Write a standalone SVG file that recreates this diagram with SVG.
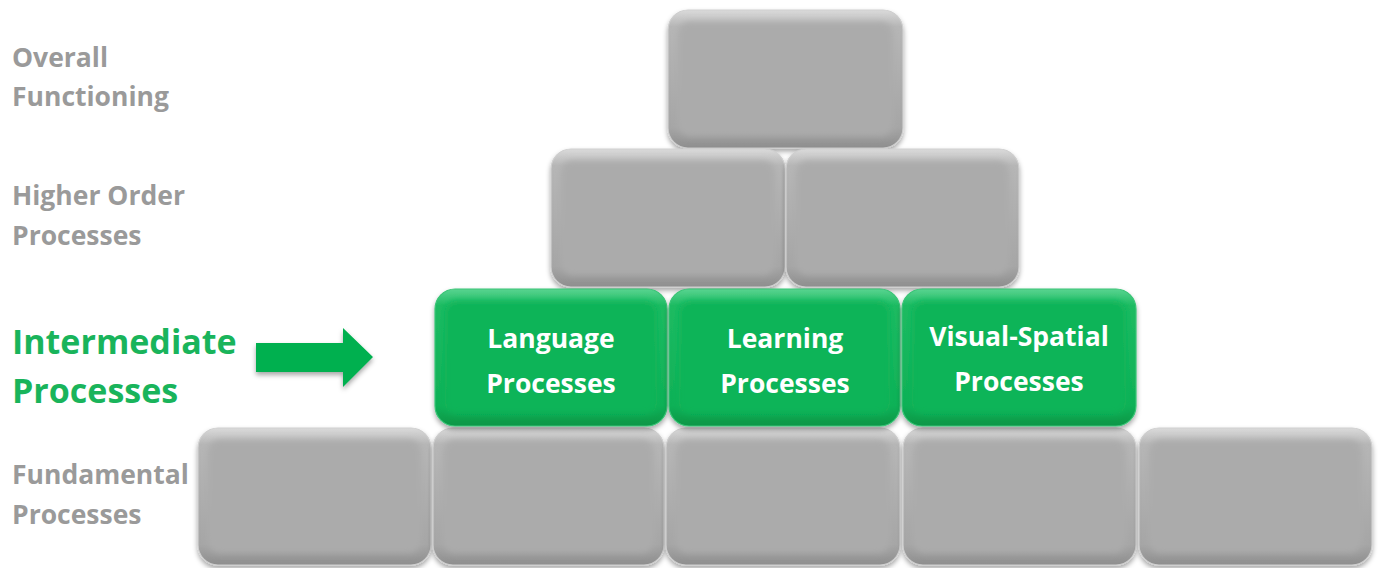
<svg xmlns="http://www.w3.org/2000/svg" width="1378" height="568" viewBox="0 0 1378 568">
<defs>
<filter id="sh" x="-10%" y="-10%" width="120%" height="125%">
<feDropShadow dx="0" dy="3" stdDeviation="2.5" flood-color="#000" flood-opacity="0.35"/>
</filter>
<filter id="soft" x="-10%" y="-10%" width="120%" height="120%">
<feGaussianBlur stdDeviation="3"/>
</filter>
<linearGradient id="gEdge" x1="0" y1="0" x2="0" y2="1">
<stop offset="0" stop-color="#dadada"/>
<stop offset="0.12" stop-color="#b6b6b6"/>
<stop offset="0.85" stop-color="#a6a6a6"/>
<stop offset="1" stop-color="#8e8e8e"/>
</linearGradient>
<linearGradient id="nEdge" x1="0" y1="0" x2="0" y2="1">
<stop offset="0" stop-color="#58d490"/>
<stop offset="0.12" stop-color="#1dbb62"/>
<stop offset="0.85" stop-color="#0fb157"/>
<stop offset="1" stop-color="#079646"/>
</linearGradient>
<style>
.gray .o{fill:url(#gEdge);stroke:#cfcfcf;stroke-width:1.2}
.gray .i{fill:#ababab}
.green .o{fill:url(#nEdge);stroke:#3ac476;stroke-width:1.2}
.green .i{fill:#11b459}
.lbl{font-family:"Open Sans","Liberation Sans",sans-serif;font-weight:bold;font-size:26.5px;fill:#9a9a9a}
.big{font-family:"Open Sans","Liberation Sans",sans-serif;font-weight:bold;font-size:34px;fill:#19b45b}
.bt{font-family:"Open Sans","Liberation Sans",sans-serif;font-weight:bold;font-size:26.5px;fill:#ffffff;text-anchor:middle}
</style>
</defs>
<rect width="1378" height="568" fill="#ffffff"/>

<g id="labels">
<text class="lbl" x="12" y="67">Overall</text>
<text class="lbl" x="12" y="106">Functioning</text>
<text class="lbl" x="12" y="205">Higher Order</text>
<text class="lbl" x="12" y="245">Processes</text>
<text class="big" x="12" y="354">Intermediate</text>
<text class="big" x="12" y="403">Processes</text>
<text class="lbl" x="12" y="484">Fundamental</text>
<text class="lbl" x="12" y="524">Processes</text>
</g>

<g id="connectors">
<polygon points="256,343 343,343 343,328 373,357 343,387 343,372 256,372" fill="#00b050" filter="url(#sh)"/>
</g>

<g id="top" class="gray" filter="url(#sh)"><rect class="o" x="668" y="10" width="235" height="138" rx="20"/><rect class="i" x="678" y="22" width="215" height="114" rx="12" filter="url(#soft)"/></g>

<g id="h1" class="gray" filter="url(#sh)"><rect class="o" x="551" y="149" width="234" height="138" rx="20"/><rect class="i" x="561" y="161" width="214" height="114" rx="12" filter="url(#soft)"/></g>
<g id="h2" class="gray" filter="url(#sh)"><rect class="o" x="786" y="149" width="233" height="138" rx="20"/><rect class="i" x="796" y="161" width="213" height="114" rx="12" filter="url(#soft)"/></g>

<g id="f1" class="gray" filter="url(#sh)"><rect class="o" x="198" y="428" width="233" height="137" rx="20"/><rect class="i" x="208" y="440" width="213" height="113" rx="12" filter="url(#soft)"/></g>
<g id="f2" class="gray" filter="url(#sh)"><rect class="o" x="433" y="428" width="231" height="137" rx="20"/><rect class="i" x="443" y="440" width="211" height="113" rx="12" filter="url(#soft)"/></g>
<g id="f3" class="gray" filter="url(#sh)"><rect class="o" x="666" y="428" width="234" height="137" rx="20"/><rect class="i" x="676" y="440" width="214" height="113" rx="12" filter="url(#soft)"/></g>
<g id="f4" class="gray" filter="url(#sh)"><rect class="o" x="903" y="428" width="233" height="137" rx="20"/><rect class="i" x="913" y="440" width="213" height="113" rx="12" filter="url(#soft)"/></g>
<g id="f5" class="gray" filter="url(#sh)"><rect class="o" x="1139" y="428" width="233" height="137" rx="20"/><rect class="i" x="1149" y="440" width="213" height="113" rx="12" filter="url(#soft)"/></g>

<g id="language" class="green">
<g filter="url(#sh)"><rect class="o" x="435" y="289" width="232" height="137" rx="20"/><rect class="i" x="445" y="301" width="212" height="113" rx="12" filter="url(#soft)"/></g>
<text class="bt" x="551" y="348">Language</text>
<text class="bt" x="551" y="393">Processes</text>
</g>
<g id="learning" class="green">
<g filter="url(#sh)"><rect class="o" x="669" y="289" width="231" height="137" rx="20"/><rect class="i" x="679" y="301" width="211" height="113" rx="12" filter="url(#soft)"/></g>
<text class="bt" x="785" y="348">Learning</text>
<text class="bt" x="785" y="393">Processes</text>
</g>
<g id="visual" class="green">
<g filter="url(#sh)"><rect class="o" x="902" y="289" width="234" height="137" rx="20"/><rect class="i" x="912" y="301" width="214" height="113" rx="12" filter="url(#soft)"/></g>
<text class="bt" x="1019" y="346">Visual-Spatial</text>
<text class="bt" x="1019" y="391">Processes</text>
</g>
</svg>
